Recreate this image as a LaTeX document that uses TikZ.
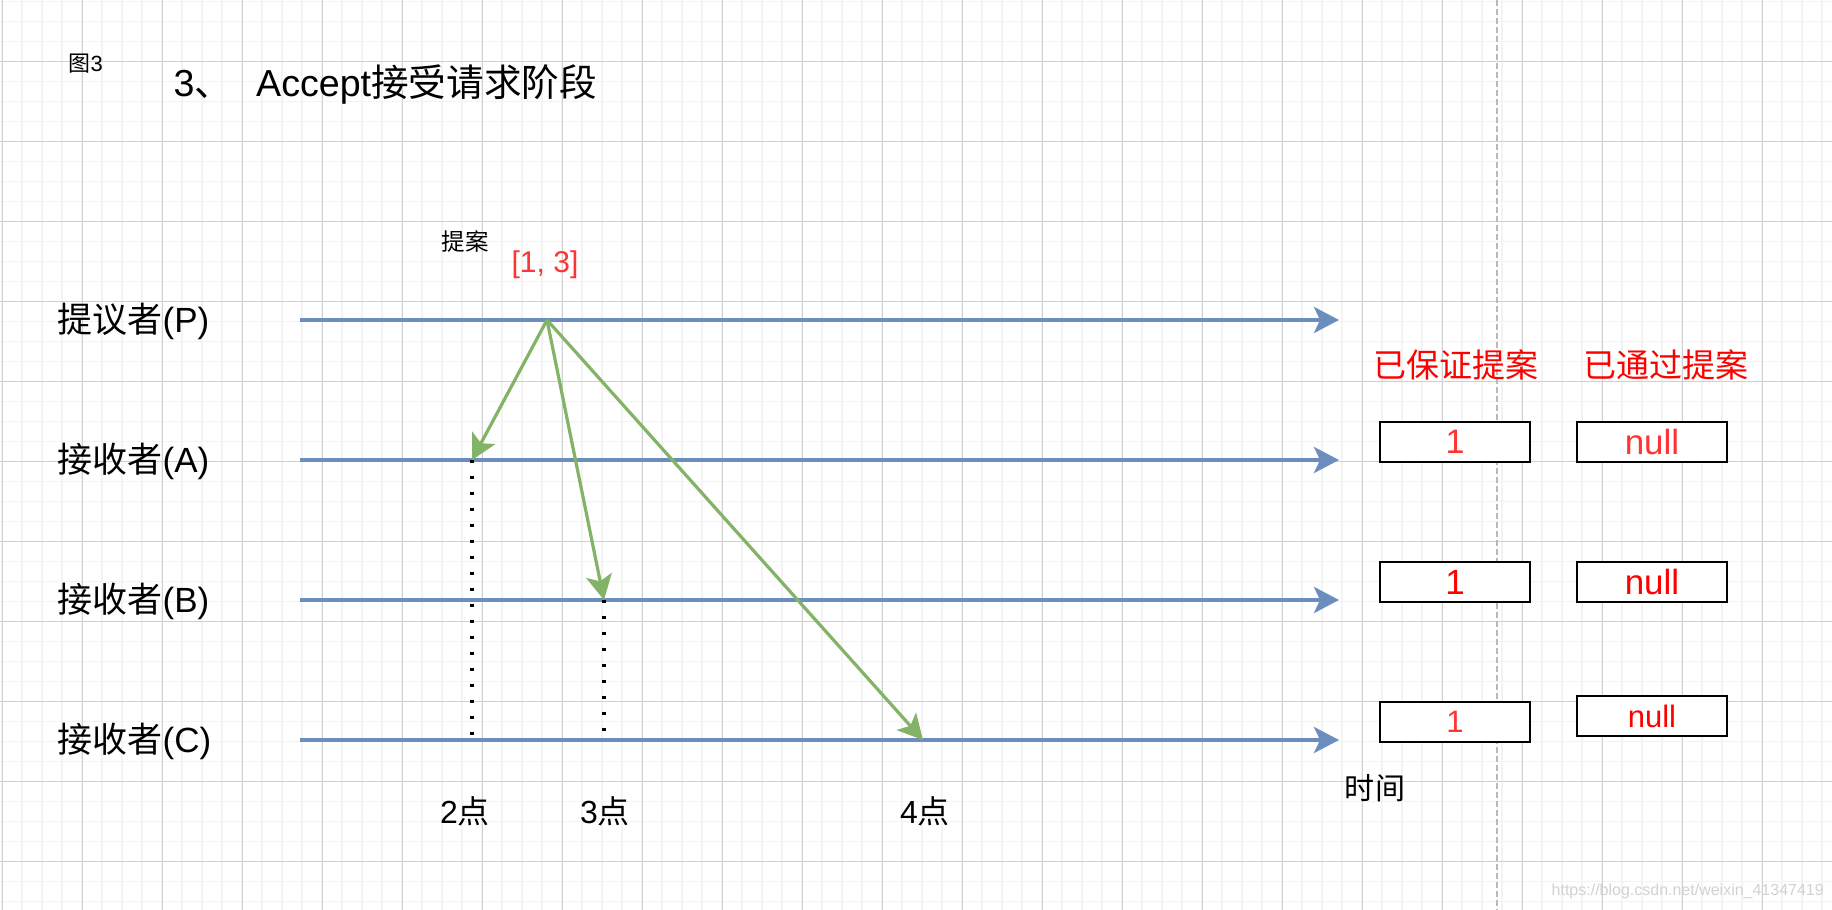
\documentclass[tikz,border=0pt]{standalone}
\usepackage{fontspec}
\setmainfont{Liberation Sans}
\newfontfamily\cjk{Noto Sans CJK SC}
\usetikzlibrary{arrows.meta}
\definecolor{lineblue}{HTML}{6C8EBF}
\definecolor{msggreen}{HTML}{82B366}
\definecolor{softred}{HTML}{FF3333}
\definecolor{gridmajor}{HTML}{D0D0D0}
\definecolor{gridminor}{HTML}{F3F3F3}
\newcommand{\fsz}[1]{\fontsize{#1}{#1}\selectfont}
\begin{document}
\begin{tikzpicture}[
    tip/.style={-{Stealth[length=0.25cm,width=0.26cm,inset=0.06cm]}},
    timeline/.style={tip,line width=0.035cm,lineblue},
    msg/.style={tip,line width=0.032cm,msggreen},
    dotline/.style={line width=0.033cm,dash pattern=on 0.033cm off 0.127cm},
    lane/.style={anchor=west,inner sep=0pt,font=\fsz{9.96}},
    statebox/.style={draw=black,line width=0.025cm,fill=white,minimum width=1.5cm,minimum height=0.4cm,inner sep=0pt},
  ]
  \useasboundingbox (0,0) rectangle (18.32,-9.10);
  \fill[white] (0,0) rectangle (18.32,-9.10);
  %% grid
  \foreach \i in {0,...,91} \draw[gridminor,line width=0.017cm] ({0.02+0.2*\i},0) -- ++(0,-9.10);
  \foreach \j in {0,...,45} \draw[gridminor,line width=0.017cm] (0,{-0.015-0.2*\j}) -- ++(18.32,0);
  \foreach \i in {0,...,22} \draw[gridmajor,line width=0.01cm] ({0.02+0.8*\i},0) -- ++(0,-9.10);
  \foreach \j in {0,...,10} \draw[gridmajor,line width=0.01cm] (0,{-0.615-0.8*\j}) -- ++(18.32,0);
  %% divider
  \draw[gray!55,line width=0.025cm,dash pattern=on 0.06cm off 0.03cm] (14.97,0) -- (14.97,-9.10);

  %% titles
  \node[anchor=west,inner sep=0pt,font=\fsz{6.26}] (figno) at (0.68,-0.64) {{\cjk 图}3};
  \node[anchor=west,inner sep=0pt,font=\fsz{10.7}] (title) at (1.73,-0.85) {3{\cjk 、}\hspace{0.24cm}Accept{\cjk 接受请求阶段}};

  %% lanes
  \node[lane] (labP) at (0.57,-3.21) {{\cjk 提议者}(P)};
  \node[lane] (labA) at (0.57,-4.61) {{\cjk 接收者}(A)};
  \node[lane] (labB) at (0.57,-6.01) {{\cjk 接收者}(B)};
  \node[lane] (labC) at (0.57,-7.41) {{\cjk 接收者}(C)};
  \coordinate (startP) at (3.00,-3.20); \coordinate (endP) at (13.39,-3.20);
  \coordinate (startA) at (3.00,-4.60); \coordinate (endA) at (13.39,-4.60);
  \coordinate (startB) at (3.00,-6.00); \coordinate (endB) at (13.39,-6.00);
  \coordinate (startC) at (3.00,-7.40); \coordinate (endC) at (13.39,-7.40);
  \draw[timeline] (startP) -- (endP);
  \draw[timeline] (startA) -- (endA);
  \draw[timeline] (startB) -- (endB);
  \draw[timeline] (startC) -- (endC);
  \node[font=\fsz{8.54}] (timeLbl) at (13.75,-7.88) {{\cjk 时间}};

  %% proposal
  \node[font=\fsz{6.69}\cjk] (propLbl) at (4.65,-2.42) {提案};
  \node[text=softred,font=\fsz{8.54}] (propVal) at (5.45,-2.645) {[1, 3]};
  \coordinate (send) at (5.47,-3.20);
  \coordinate (recvA) at (4.72,-4.60);
  \coordinate (recvB) at (6.04,-6.00);
  \coordinate (recvC) at (9.23,-7.40);
  \draw[msg] (send) -- (recvA);
  \draw[msg] (send) -- (recvB);
  \draw[msg] (send) -- (recvC);
  %% arrival marks
  \coordinate (footA) at (4.72,-7.40);
  \coordinate (footB) at (6.04,-7.40);
  \draw[dotline] (recvA) -- (footA);
  \draw[dotline] (recvB) -- (footB);
  \node[font=\fsz{9.1}] (ptA) at (4.65,-8.11) {2{\cjk 点}};
  \node[font=\fsz{9.1}] (ptB) at (6.05,-8.11) {3{\cjk 点}};
  \node[font=\fsz{9.1}] (ptC) at (9.25,-8.11) {4{\cjk 点}};

  %% state
  \node[text=red,font=\fsz{9.39}\cjk] (hdrPromised) at (14.56,-3.65) {已保证提案};
  \node[text=red,font=\fsz{9.39}\cjk] (hdrAccepted) at (16.655,-3.65) {已通过提案};
  \node[statebox,text=softred,font=\fsz{9.67}] (promA) at (14.55,-4.42) {1};
  \node[statebox,text=softred,font=\fsz{9.96}] (accA) at (16.52,-4.42) {null};
  \node[statebox,text=red,font=\fsz{9.96}] (promB) at (14.55,-5.82) {1};
  \node[statebox,text=red,font=\fsz{9.96}] (accB) at (16.52,-5.82) {null};
  \node[statebox,text=softred,font=\fsz{8.82}] (promC) at (14.55,-7.22) {1};
  \node[statebox,text=red,font=\fsz{8.82}] (accC) at (16.52,-7.16) {null};

  \node[anchor=west,inner sep=0pt,text=gray!35,font=\fsz{4.55}] (mark) at (15.51,-8.917) {https://blog.csdn.net/weixin\_41347419};
\end{tikzpicture}
\end{document}
